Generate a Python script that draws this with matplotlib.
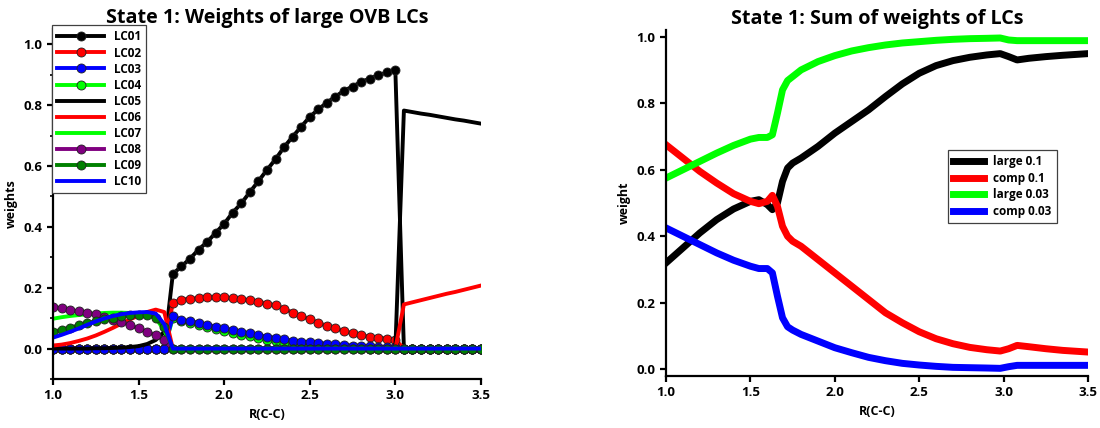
import numpy as np
import matplotlib
matplotlib.use("Agg")
import matplotlib.pyplot as plt

plt.rcParams['font.family'] = ['Open Sans', 'DejaVu Sans']
plt.rcParams['font.weight'] = 'bold'
plt.rcParams['axes.labelweight'] = 'bold'
plt.rcParams['axes.titleweight'] = 'bold'

# R(C-C) grid for the individual LC weights
r_cc = np.linspace(1.0, 3.5, 51)

# weights: 1.00-1.65 | 1.70-3.00 | 3.05-3.50
lc01 = [0]*14 + [0.245, 0.27, 0.295, 0.325, 0.35, 0.38, 0.41, 0.447, 0.477, 0.514,
                 0.55, 0.587, 0.622, 0.662, 0.696, 0.729, 0.761, 0.786, 0.808, 0.828,
                 0.847, 0.861, 0.876, 0.887, 0.898, 0.907, 0.915] + [0]*10
lc02 = [0]*14 + [0.15, 0.161, 0.164, 0.166, 0.168, 0.169, 0.168, 0.166, 0.163, 0.158,
                 0.154, 0.148, 0.142, 0.131, 0.118, 0.107, 0.096, 0.085, 0.074, 0.066,
                 0.058, 0.05, 0.044, 0.039, 0.036, 0.033, 0.029] + [0]*10
lc03 = [0]*14 + [0.106, 0.095, 0.09, 0.085, 0.079, 0.072, 0.067, 0.061, 0.056, 0.05,
                 0.045, 0.039, 0.036, 0.031, 0.026, 0.023, 0.021, 0.019, 0.016, 0.014,
                 0.012, 0.01, 0.009, 0.007, 0.006, 0.005, 0.004] + [0]*10
lc04 = [0]*14 + [0.1, 0.09, 0.084, 0.078, 0.071, 0.064, 0.058, 0.052, 0.046, 0.04,
                 0.034, 0.028, 0.024, 0.019, 0.015, 0.012, 0.01, 0.008, 0.006, 0.004,
                 0.003, 0.002, 0.001, 0, 0, 0, 0] + [0]*10
lc05 = [0, 0, 0, 0, 0, 0.001, 0.001, 0.002, 0.003, 0.005, 0.008, 0.015, 0.028, 0.055] \
    + [0]*27 + [0.782, 0.777, 0.772, 0.768, 0.763, 0.758, 0.753, 0.749, 0.744, 0.739]
lc06 = [0.01, 0.013, 0.018, 0.025, 0.033, 0.043, 0.055, 0.068, 0.082, 0.096,
        0.108, 0.12, 0.128, 0.12] + [0]*27 \
    + [0.145, 0.152, 0.159, 0.166, 0.173, 0.18, 0.186, 0.193, 0.2, 0.207]
lc07 = [0.098, 0.103, 0.107, 0.11, 0.113, 0.115, 0.117, 0.118, 0.118, 0.117,
        0.115, 0.112, 0.1, 0.06] + [0]*37
lc08 = [0.137, 0.132, 0.126, 0.122, 0.118, 0.112, 0.104, 0.095, 0.088, 0.077,
        0.066, 0.055, 0.044, 0.027] + [0]*37
lc09 = [0.055, 0.062, 0.069, 0.076, 0.083, 0.09, 0.097, 0.102, 0.106, 0.109,
        0.111, 0.11, 0.1, 0.07] + [0]*37
lc10 = [0.036, 0.045, 0.055, 0.066, 0.078, 0.089, 0.099, 0.107, 0.113, 0.117,
        0.119, 0.12, 0.115, 0.08] + [0]*37

lc_series = [lc01, lc02, lc03, lc04, lc05, lc06, lc07, lc08, lc09, lc10]
lc_names = ['LC01', 'LC02', 'LC03', 'LC04', 'LC05', 'LC06', 'LC07', 'LC08', 'LC09', 'LC10']
lc_colors = ['#000000', '#ff0000', '#0000ff', '#00ff00', '#000000', '#ff0000',
             '#00ff00', '#800080', '#008000', '#0000ff']
lc_markers = ['o', 'o', 'o', 'o', None, None, None, 'o', 'o', None]
# LC04 sits underneath LC03
lc_zorder = [2.0, 2.0, 2.0, 1.9, 2.0, 2.0, 2.0, 2.0, 2.0, 2.0]

# summed weights
r_sum = [1.0, 1.1, 1.2, 1.3, 1.4, 1.5, 1.55, 1.6, 1.63, 1.66, 1.69, 1.72, 1.75, 1.8,
         1.9, 2.0, 2.1, 2.2, 2.3, 2.4, 2.5, 2.6, 2.7, 2.8, 2.9, 2.98, 3.03, 3.08,
         3.15, 3.25, 3.35, 3.5]
large_01 = [0.32, 0.365, 0.41, 0.45, 0.482, 0.505, 0.51, 0.495, 0.48, 0.5, 0.565, 0.605,
            0.62, 0.635, 0.67, 0.71, 0.745, 0.78, 0.82, 0.858, 0.89, 0.913, 0.928,
            0.938, 0.945, 0.949, 0.94, 0.93, 0.935, 0.94, 0.944, 0.949]
comp_01 = [0.675, 0.635, 0.595, 0.56, 0.528, 0.505, 0.498, 0.505, 0.523, 0.49, 0.43, 0.4,
           0.385, 0.37, 0.33, 0.29, 0.25, 0.21, 0.17, 0.14, 0.113, 0.092, 0.077, 0.066,
           0.059, 0.055, 0.062, 0.072, 0.068, 0.062, 0.057, 0.052]
large_003 = [0.575, 0.6, 0.625, 0.65, 0.673, 0.692, 0.697, 0.697, 0.705, 0.77, 0.84, 0.868,
             0.88, 0.9, 0.925, 0.943, 0.957, 0.967, 0.975, 0.981, 0.985, 0.989, 0.992,
             0.994, 0.995, 0.996, 0.99, 0.988, 0.988, 0.988, 0.988, 0.988]
comp_003 = [0.425, 0.4, 0.375, 0.35, 0.328, 0.31, 0.303, 0.303, 0.29, 0.22, 0.155, 0.128,
            0.118, 0.105, 0.085, 0.065, 0.05, 0.036, 0.026, 0.018, 0.013, 0.009, 0.006,
            0.005, 0.004, 0.003, 0.008, 0.012, 0.012, 0.012, 0.012, 0.012]
sum_series = [large_01, comp_01, large_003, comp_003]
sum_names = ['large 0.1', 'comp 0.1', 'large 0.03', 'comp 0.03']
sum_colors = ['#000000', '#ff0000', '#00ff00', '#0000ff']

x_ticks = [1.0, 1.5, 2.0, 2.5, 3.0, 3.5]


def style_axes(ax):
    for side in ['top', 'right']:
        ax.spines[side].set_visible(False)
    for side in ['left', 'bottom']:
        ax.spines[side].set_linewidth(1.6)
    ax.tick_params(which='major', direction='out', length=4, width=1.6, labelsize=9.5)
    ax.set_xticks(x_ticks)
    ax.set_xlim(1.0, 3.5)
    ax.set_xlabel('R(C-C)', fontsize=9)


fig = plt.figure(figsize=(11, 4.28), dpi=100)

ax1 = fig.add_axes([0.0482, 0.1145, 0.389, 0.8178])
for ys, name, col, mk, zo in zip(lc_series, lc_names, lc_colors, lc_markers, lc_zorder):
    ax1.plot(r_cc, ys, color=col, lw=2.8, marker=mk, markersize=6.5,
             markeredgecolor='#202020', markeredgewidth=0.6, label=name, zorder=zo)
style_axes(ax1)
ax1.set_ylim(-0.1, 1.05)
ax1.set_yticks([0.0, 0.2, 0.4, 0.6, 0.8, 1.0])
ax1.set_yticks(np.linspace(-0.1, 1.0, 12), minor=True)
ax1.tick_params(which='minor', axis='y', direction='out', length=2, width=1.2)
ax1.set_ylabel('weights', fontsize=9)
ax1.set_title('State 1: Weights of large OVB LCs', fontsize=14.2, pad=4)
leg1 = ax1.legend(loc='upper left', bbox_to_anchor=(-0.003, 1.011), borderaxespad=0,
                  fontsize=8.5, numpoints=1, handlelength=4.0, labelspacing=0.26,
                  borderpad=0.45, fancybox=False, framealpha=1, edgecolor='#404040')
leg1.get_frame().set_linewidth(0.9)

ax2 = fig.add_axes([0.6055, 0.1215, 0.3836, 0.8084])
for ys, name, col in zip(sum_series, sum_names, sum_colors):
    ax2.plot(r_sum, ys, color=col, lw=5, solid_joinstyle='round', label=name)
style_axes(ax2)
ax2.set_ylim(-0.02, 1.02)
ax2.set_yticks([0.0, 0.2, 0.4, 0.6, 0.8, 1.0])
ax2.set_ylabel('weight', fontsize=9)
ax2.set_title('State 1: Sum of weights of LCs', fontsize=14.2, pad=4)
leg2 = ax2.legend(loc='upper left', bbox_to_anchor=(0.668, 0.653), borderaxespad=0,
                  fontsize=8.5, handlelength=2.6, labelspacing=0.3, borderpad=0.45,
                  fancybox=False, framealpha=1, edgecolor='#404040')
leg2.get_frame().set_linewidth(0.9)

fig.savefig('out.png', dpi=100)
